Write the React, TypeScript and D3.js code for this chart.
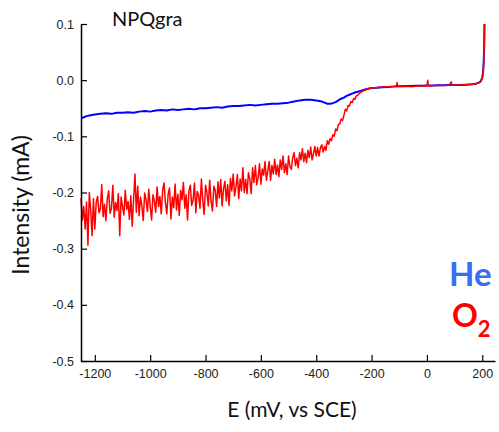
import React, { useEffect, useRef } from "react";
import * as d3 from "d3";

// ---------- data ----------
const xTicks = [-1200, -1000, -800, -600, -400, -200, 0, 200];
const yTicks = [0.1, 0.0, -0.1, -0.2, -0.3, -0.4, -0.5];

// He (blue) : potential (mV vs SCE) and current (mA)
const heE = [
  -1250, -1240, -1230, -1220, -1200, -1180, -1160, -1140, -1120, -1100, -1080, -1060, -1040, -1020, -1000,
  -980, -960, -940, -920, -900, -880, -860, -840, -820, -800, -780, -760, -740, -720, -700, -680, -660,
  -640, -620, -600, -580, -560, -540, -520, -500, -480, -460, -440, -420, -400, -390, -380, -370, -360,
  -350, -340, -330, -320, -310, -300, -290, -280, -270, -260, -250, -240, -220, -200, -180, -160, -140,
  -120, -100, -80, -60, -40, -20, 0, 20, 40, 60, 80, 100, 120, 140, 160, 170, 180, 190, 195, 200, 203,
  205, 207, 208,
];
const heI = [
  -0.068, -0.066, -0.064, -0.063, -0.061, -0.06, -0.059, -0.06, -0.058, -0.058, -0.057, -0.058, -0.056,
  -0.055, -0.056, -0.054, -0.053, -0.054, -0.052, -0.053, -0.052, -0.051, -0.052, -0.05, -0.05, -0.049,
  -0.048, -0.049, -0.047, -0.046, -0.046, -0.045, -0.044, -0.045, -0.044, -0.043, -0.042, -0.042, -0.041,
  -0.04, -0.038, -0.036, -0.035, -0.035, -0.036, -0.037, -0.038, -0.04, -0.042, -0.042, -0.041, -0.039,
  -0.036, -0.033, -0.031, -0.028, -0.026, -0.024, -0.022, -0.0205, -0.019, -0.016, -0.014, -0.0135,
  -0.0125, -0.012, -0.0115, -0.011, -0.0105, -0.0103, -0.01, -0.0098, -0.0096, -0.0094, -0.0092, -0.009,
  -0.0088, -0.0086, -0.0084, -0.008, -0.0074, -0.0068, -0.0058, -0.004, -0.0015, 0.004, 0.015, 0.03,
  0.06, 0.1,
];

// O2 (red) : potential (mV vs SCE) and current (mA)
const o2E = [
  -1250, -1245, -1240, -1235, -1230, -1225, -1220, -1215, -1210, -1205, -1200, -1195, -1190, -1185, -1180,
  -1175, -1170, -1165, -1160, -1155, -1150, -1145, -1140, -1135, -1130, -1125, -1120, -1115, -1110, -1105,
  -1100, -1095, -1090, -1085, -1080, -1075, -1070, -1065, -1060, -1055, -1050, -1045, -1040, -1035, -1030,
  -1025, -1020, -1015, -1010, -1005, -1000, -995, -990, -985, -980, -975, -970, -965, -960, -955, -950,
  -945, -940, -935, -930, -925, -920, -915, -910, -905, -900, -895, -890, -885, -880, -875, -870, -865,
  -860, -855, -850, -845, -840, -835, -830, -825, -820, -815, -810, -805, -800, -795, -790, -785, -780,
  -775, -770, -765, -760, -755, -750, -745, -740, -735, -730, -725, -720, -715, -710, -705, -700, -695,
  -690, -685, -680, -675, -670, -665, -660, -655, -650, -645, -640, -635, -630, -625, -620, -615, -610,
  -605, -600, -595, -590, -585, -580, -575, -570, -565, -560, -555, -550, -545, -540, -535, -530, -525,
  -520, -515, -510, -505, -500, -495, -490, -485, -480, -475, -470, -465, -460, -455, -450, -445, -440,
  -435, -430, -425, -420, -415, -410, -405, -400, -395, -390, -385, -380, -375, -370, -365, -360, -355,
  -350, -345, -340, -335, -330, -325, -320, -315, -310, -305, -300, -295, -290, -285, -280, -275, -270,
  -265, -260, -255, -250, -245, -240, -230, -220, -210, -200, -180, -160, -140, -120, -110, -108, -105,
  -100, -80, -60, -40, -20, 0, 3, 5, 8, 20, 40, 60, 80, 88, 90, 93, 100, 120, 140, 160, 170, 180, 190,
  195, 200, 203, 205, 207, 208,
];
const o2I = [
  -0.21, -0.249, -0.225, -0.265, -0.217, -0.294, -0.2, -0.23, -0.277, -0.211,
  -0.265, -0.217, -0.207, -0.236, -0.229, -0.186, -0.243, -0.221, -0.25, -0.212,
  -0.197, -0.237, -0.228, -0.187, -0.244, -0.218, -0.232, -0.202, -0.277, -0.208,
  -0.225, -0.24, -0.196, -0.23, -0.216, -0.248, -0.206, -0.26, -0.213, -0.167,
  -0.235, -0.189, -0.241, -0.208, -0.224, -0.25, -0.201, -0.213, -0.234, -0.194,
  -0.225, -0.249, -0.204, -0.215, -0.235, -0.19, -0.225, -0.207, -0.238, -0.196,
  -0.183, -0.218, -0.238, -0.203, -0.192, -0.247, -0.208, -0.227, -0.185, -0.231,
  -0.203, -0.241, -0.196, -0.213, -0.182, -0.228, -0.204, -0.249, -0.197, -0.187,
  -0.223, -0.214, -0.183, -0.236, -0.198, -0.205, -0.228, -0.176, -0.214, -0.239,
  -0.187, -0.2, -0.224, -0.178, -0.215, -0.233, -0.189, -0.196, -0.225, -0.181,
  -0.21, -0.177, -0.224, -0.193, -0.18, -0.215, -0.186, -0.223, -0.175, -0.197,
  -0.167, -0.206, -0.19, -0.168, -0.211, -0.176, -0.197, -0.156, -0.2, -0.177,
  -0.202, -0.165, -0.176, -0.202, -0.156, -0.182, -0.152, -0.186, -0.174, -0.149,
  -0.185, -0.158, -0.169, -0.145, -0.178, -0.161, -0.145, -0.178, -0.152, -0.167,
  -0.141, -0.168, -0.151, -0.172, -0.142, -0.159, -0.135, -0.165, -0.149, -0.168,
  -0.135, -0.154, -0.159, -0.138, -0.129, -0.152, -0.139, -0.156, -0.129, -0.142,
  -0.122, -0.145, -0.13, -0.147, -0.125, -0.138, -0.119, -0.142, -0.131, -0.118,
  -0.135, -0.12, -0.135, -0.121, -0.115, -0.128, -0.118, -0.125, -0.108, -0.114,
  -0.104, -0.108, -0.097, -0.1, -0.087, -0.09, -0.079, -0.078, -0.069, -0.072, -0.063,
  -0.052, -0.055, -0.045, -0.046, -0.038, -0.04, -0.033, -0.034, -0.028, -0.027, -0.024, -0.022, -0.019,
  -0.017, -0.015, -0.014, -0.013, -0.012, -0.0115, -0.011, -0.0105, -0.004, -0.0105, -0.0112, -0.0108,
  -0.0115, -0.011, -0.0106, -0.0104, 0.0, -0.0104, -0.0102, -0.0098, -0.0096, -0.0094, -0.0092, -0.003,
  -0.0092, -0.009, -0.0088, -0.0086, -0.0082, -0.0076, -0.007, -0.006, -0.0042, -0.0016, 0.004, 0.015,
  0.03, 0.06, 0.1,
];

const W = 499;
const H = 432;

export default function App() {
  const xAxisRef = useRef<SVGGElement>(null);
  const yAxisRef = useRef<SVGGElement>(null);

  const x = d3.scaleLinear().domain([-1250, 246]).range([81, 495]);
  const y = d3.scaleLinear().domain([-0.5, 0.1]).range([361, 24]);

  const line = d3
    .line<[number, number]>()
    .x((d) => x(d[0]))
    .y((d) => y(d[1]));

  const heData: [number, number][] = heE.map((e, i) => [e, heI[i]]);
  const o2Data: [number, number][] = o2E.map((e, i) => [e, o2I[i]]);

  useEffect(() => {
    const xa = d3
      .axisBottom(x)
      .tickValues(xTicks)
      .tickSizeInner(-6)
      .tickSizeOuter(0)
      .tickPadding(8)
      .tickFormat((d) => String(d));
    const ya = d3
      .axisLeft(y)
      .tickValues(yTicks)
      .tickSizeInner(-6)
      .tickSizeOuter(0)
      .tickPadding(7)
      .tickFormat((d) => (d as number).toFixed(1));
    const gx = d3.select(xAxisRef.current!);
    gx.call(xa as any);
    const gy = d3.select(yAxisRef.current!);
    gy.call(ya as any);
    [gx, gy].forEach((g) => {
      g.selectAll("path.domain").attr("stroke", "#000").attr("stroke-width", 1.5);
      g.selectAll(".tick line").attr("stroke", "#000").attr("stroke-width", 1.2);
      g.selectAll(".tick text")
        .attr("fill", "#222")
        .style("font-family", "'Liberation Sans', Arial, sans-serif")
        .style("font-size", "12.5px");
    });
  }, []);

  return (
    <svg
      width={W}
      height={H}
      viewBox={`0 0 ${W} ${H}`}
      style={{ position: "absolute", left: 0, top: 0, background: "#fff" }}
    >
      <rect x={0} y={0} width={W} height={H} fill="#fff" />
      <path d={line(heData) || ""} fill="none" stroke="#0000ff" strokeWidth={2} strokeLinejoin="round" />
      <path d={line(o2Data) || ""} fill="none" stroke="#ff0000" strokeWidth={1.5} strokeLinejoin="round" />
      <g ref={xAxisRef} transform={`translate(0,361)`} />
      <g ref={yAxisRef} transform={`translate(81,0)`} />
      <text x={112} y={26} fontFamily="Lato, 'Open Sans', sans-serif" fontSize={20} fill="#111">
        NPQgra
      </text>
      <text
        transform="translate(29,205) rotate(-90)"
        textAnchor="middle"
        fontFamily="Lato, 'Open Sans', sans-serif"
        fontSize={23}
        fill="#111"
      >
        Intensity (mA)
      </text>
      <text x={292} y={417} textAnchor="middle" fontFamily="Lato, 'Open Sans', sans-serif" fontSize={21} fill="#111">
        E (mV, vs SCE)
      </text>
      <text x={449} y={286} fontFamily="Lato, 'Open Sans', sans-serif" fontWeight="bold" fontSize={33} fill="#3a6cf4">
        He
      </text>
      <text x={452} y={327} fontFamily="Lato, 'Open Sans', sans-serif" fontWeight="bold" fontSize={32} fill="#ff0000">
        O<tspan fontSize={22} dy={10}>2</tspan>
      </text>
    </svg>
  );
}
